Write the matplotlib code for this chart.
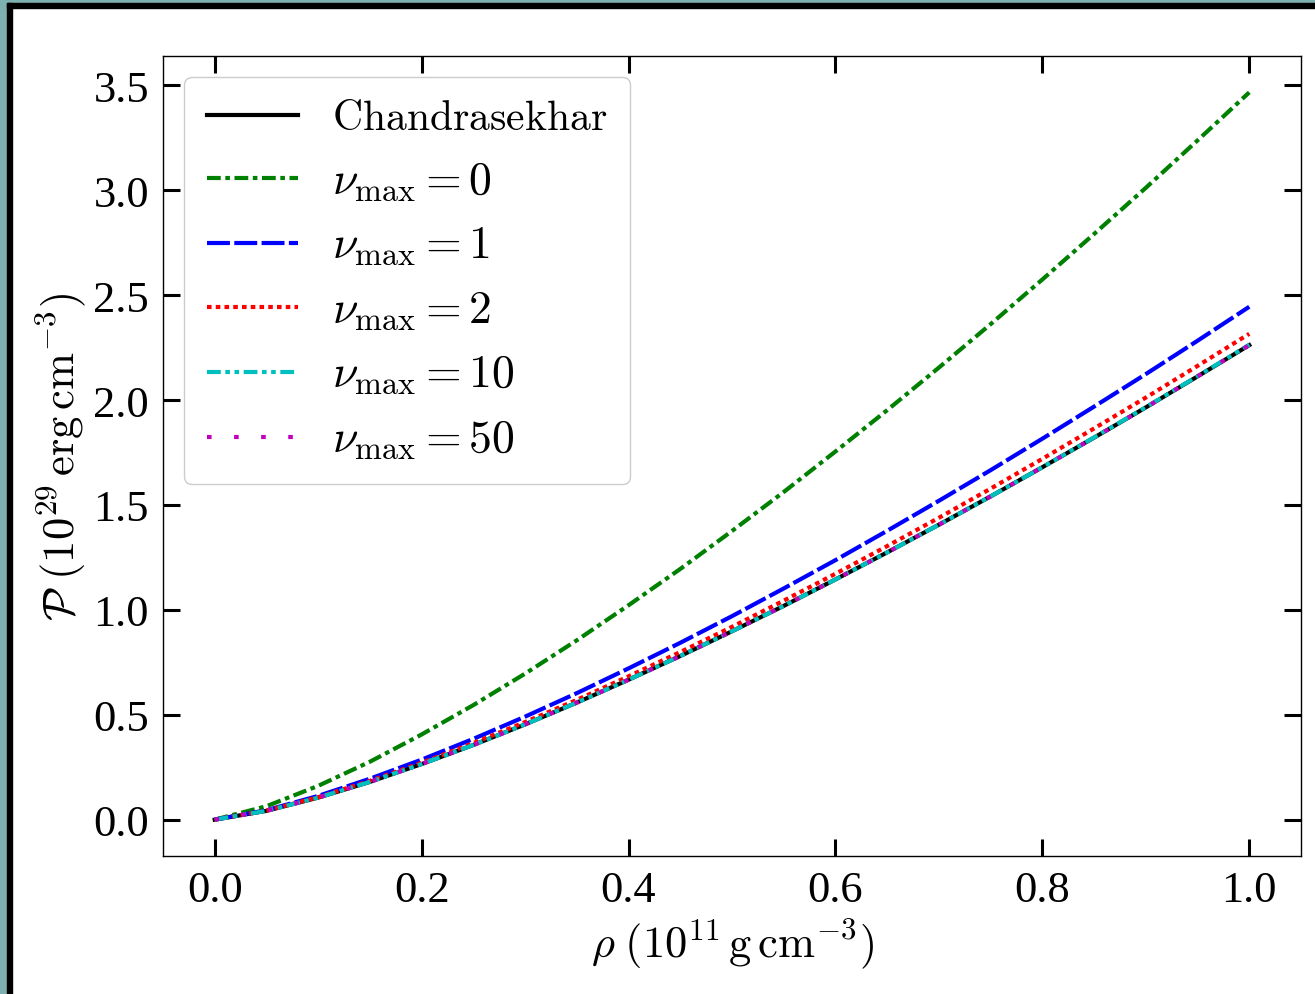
import matplotlib
matplotlib.use("Agg")
from matplotlib import pyplot as plt
from matplotlib.patches import Rectangle

# =============================================================================
# DADOS
# =============================================================================

rho = [0.0, 0.05, 0.10, 0.15, 0.20, 0.25, 0.30, 0.35, 0.40, 0.45, 0.50,
       0.55, 0.60, 0.65, 0.70, 0.75, 0.80, 0.85, 0.90, 0.95, 1.00]

p_chandra = [0.0, 0.042, 0.105, 0.180, 0.265, 0.356, 0.454, 0.558, 0.667, 0.780, 0.898,
             1.019, 1.145, 1.274, 1.406, 1.541, 1.680, 1.821, 1.965, 2.113, 2.262]
p_nu0 = [0.0, 0.064, 0.161, 0.276, 0.406, 0.546, 0.696, 0.855, 1.022, 1.195, 1.376,
         1.562, 1.755, 1.952, 2.155, 2.362, 2.575, 2.792, 3.012, 3.238, 3.467]
p_nu1 = [0.0, 0.045, 0.113, 0.195, 0.286, 0.385, 0.491, 0.603, 0.721, 0.843, 0.970,
         1.102, 1.237, 1.377, 1.520, 1.666, 1.816, 1.969, 2.124, 2.283, 2.445]
p_nu2 = [0.0, 0.043, 0.107, 0.185, 0.271, 0.365, 0.465, 0.571, 0.683, 0.799, 0.919,
         1.044, 1.172, 1.304, 1.439, 1.578, 1.720, 1.865, 2.012, 2.163, 2.316]
p_nu10 = [0.0, 0.042, 0.105, 0.180, 0.265, 0.356, 0.454, 0.558, 0.667, 0.780, 0.898,
          1.019, 1.145, 1.274, 1.406, 1.541, 1.680, 1.822, 1.966, 2.114, 2.264]
p_nu50 = [0.0, 0.042, 0.105, 0.180, 0.265, 0.356, 0.454, 0.558, 0.667, 0.780, 0.898,
          1.019, 1.145, 1.274, 1.406, 1.541, 1.680, 1.821, 1.965, 2.113, 2.262]

# =============================================================================
# ESTILO
# =============================================================================

plt.rcParams["font.family"] = ["Liberation Serif", "DejaVu Serif"]
plt.rcParams["mathtext.fontset"] = "cm"

fig = plt.figure(figsize=(13.15, 9.95), dpi=100)

# moldura da captura de tela
fig.patches.append(Rectangle((0, 0), 7 / 1315, 1, transform=fig.transFigure,
                             color="#7fb0b0", zorder=0))
fig.patches.append(Rectangle((0, 1 - 4 / 995), 1, 4 / 995, transform=fig.transFigure,
                             color="#7fb0b0", zorder=0))
fig.patches.append(Rectangle((7 / 1315, 0), 5 / 1315, 1 - 4 / 995, transform=fig.transFigure,
                             color="black", zorder=1))
fig.patches.append(Rectangle((7 / 1315, 1 - 9 / 995), 1, 5 / 995, transform=fig.transFigure,
                             color="black", zorder=1))

ax = fig.add_axes([163 / 1315, 1 - 857 / 995, (1301 - 163) / 1315, (857 - 57) / 995])

lw = 3
ax.plot(rho, p_chandra, color="black", lw=lw, label=r"$\mathrm{Chandrasekhar}$")
ax.plot(rho, p_nu0, color="green", lw=lw, dashes=(3.3, 1.1, 1.1, 1.1),
        label=r"$\nu_{\max}=0$")
ax.plot(rho, p_nu1, color="blue", lw=lw, dashes=(5.5, 1.05),
        label=r"$\nu_{\max}=1$")
ax.plot(rho, p_nu2, color="red", lw=lw, dashes=(1.1, 1.0),
        label=r"$\nu_{\max}=2$")
ax.plot(rho, p_nu10, color="c", lw=lw, dashes=(3.3, 1.1, 1.1, 1.1, 1.1, 1.1),
        label=r"$\nu_{\max}=10$")
ax.plot(rho, p_nu50, color="m", lw=lw, dashes=(1.1, 5.4),
        label=r"$\nu_{\max}=50$")

ax.set_xticks([0.0, 0.2, 0.4, 0.6, 0.8, 1.0])
ax.set_yticks([0.0, 0.5, 1.0, 1.5, 2.0, 2.5, 3.0, 3.5])
ax.xaxis.set_major_formatter(matplotlib.ticker.FormatStrFormatter("%.1f"))
ax.yaxis.set_major_formatter(matplotlib.ticker.FormatStrFormatter("%.1f"))
ax.tick_params(direction="in", top=True, right=True, length=12, width=2.2,
               labelsize=32, pad=10)
for s in ax.spines.values():
    s.set_linewidth(1.0)

ax.set_xlabel(r"$\rho\;(10^{11}\,\mathrm{g\,cm^{-3}})$", fontsize=32, labelpad=4)
ax.set_ylabel(r"$\mathcal{P}\;(10^{29}\,\mathrm{erg\,cm^{-3}})$", fontsize=32, labelpad=4)

leg = ax.legend(loc="upper left", fontsize=30, handlelength=2.2, handletextpad=0.8,
                labelspacing=0.52, borderaxespad=0.5, borderpad=0.55, framealpha=1.0)
for t in leg.get_texts()[1:]:
    t.set_fontsize(33)

fig.savefig("out.png", dpi=100)
